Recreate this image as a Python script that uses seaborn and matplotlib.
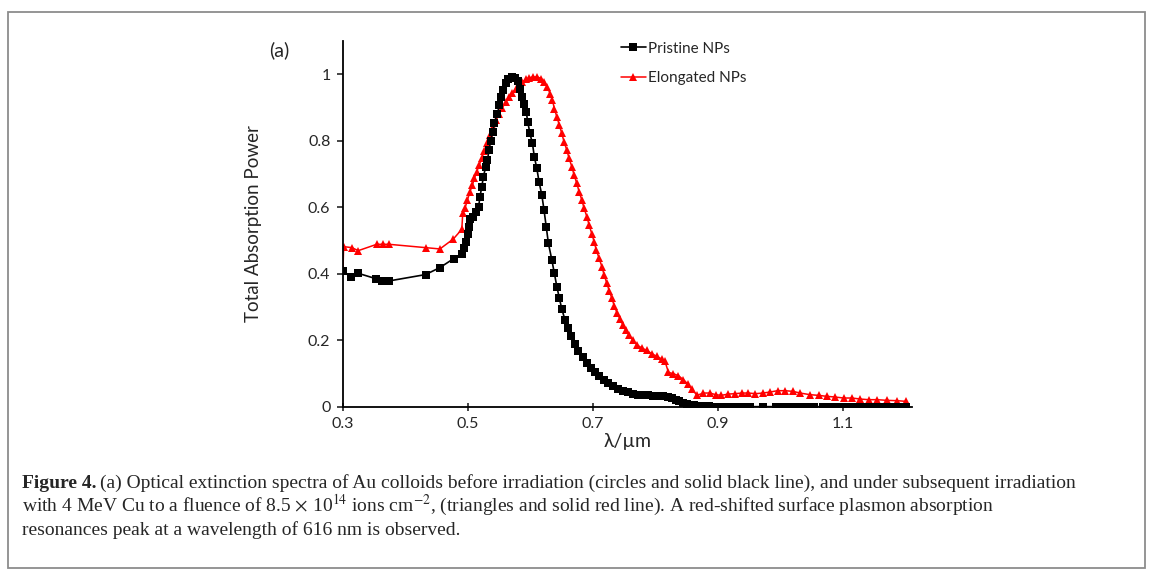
import numpy as np
import pandas as pd
import matplotlib
matplotlib.use("Agg")
import matplotlib.pyplot as plt
import seaborn as sns
from matplotlib.patches import Rectangle

sns.set_style("ticks")
plt.rcParams["font.family"] = ["Lato", "DejaVu Sans"]
plt.rcParams["mathtext.fontset"] = "stix"

# Pristine NPs (black squares)
pristine_x = [0.300, 0.312, 0.324, 0.352, 0.363, 0.374, 0.432, 0.455, 0.477, 0.490,
              0.494, 0.497, 0.4995, 0.502, 0.503, 0.508, 0.513, 0.517, 0.519, 0.522,
              0.5245, 0.528, 0.531, 0.5336, 0.536, 0.5395, 0.542, 0.547, 0.550, 0.553,
              0.5565, 0.560, 0.5645, 0.570, 0.575, 0.5805, 0.583, 0.587, 0.590, 0.593,
              0.5955, 0.599, 0.603, 0.606, 0.610, 0.6135, 0.618, 0.6215, 0.625, 0.6285,
              0.634, 0.638, 0.642, 0.646, 0.650, 0.655, 0.6605, 0.665, 0.671, 0.6765,
              0.6835, 0.690, 0.696, 0.703, 0.710, 0.717, 0.7245, 0.7325, 0.7405, 0.7485,
              0.7565, 0.7645, 0.7725, 0.780, 0.788, 0.796, 0.804, 0.812, 0.820, 0.826,
              0.832, 0.838, 0.844, 0.850, 0.856, 0.862, 0.868, 0.874, 0.880, 0.886,
              0.892, 0.898, 0.904, 0.910, 0.916, 0.922, 0.928, 0.934, 0.940, 0.946,
              0.951, 0.971, 0.992, 1.004, 1.017, 1.029, 1.042, 1.054, 1.067, 1.079,
              1.092, 1.104, 1.117, 1.129, 1.142, 1.154, 1.167, 1.179, 1.190, 1.200]
pristine_y = [0.410, 0.390, 0.402, 0.386, 0.380, 0.379, 0.398, 0.419, 0.446, 0.459,
              0.477, 0.497, 0.520, 0.542, 0.564, 0.570, 0.586, 0.602, 0.632, 0.662,
              0.692, 0.720, 0.742, 0.772, 0.800, 0.827, 0.854, 0.882, 0.907, 0.932,
              0.954, 0.974, 0.987, 0.992, 0.990, 0.980, 0.957, 0.932, 0.912, 0.887,
              0.857, 0.822, 0.792, 0.752, 0.717, 0.677, 0.637, 0.592, 0.542, 0.492,
              0.442, 0.402, 0.362, 0.327, 0.294, 0.262, 0.237, 0.212, 0.190, 0.169,
              0.150, 0.132, 0.117, 0.104, 0.092, 0.082, 0.072, 0.062, 0.055, 0.049,
              0.044, 0.040, 0.037, 0.036, 0.035, 0.034, 0.034, 0.033, 0.030, 0.026,
              0.021, 0.017, 0.013, 0.010, 0.007, 0.005, 0.004, 0.003, 0.002, 0.002,
              0.001, 0.001, 0.001, 0.001, 0.001, 0.001, 0.001, 0.001, 0.001, 0.001,
              0.001, 0.001, 0.001, 0.001, 0.001, 0.001, 0.001, 0.001, 0.001, 0.001,
              0.001, 0.001, 0.001, 0.001, 0.001, 0.001, 0.001, 0.001, 0.001, 0.001]

# Elongated NPs (red triangles)
elongated_x = [0.300, 0.301, 0.314, 0.3245, 0.354, 0.3635, 0.3735, 0.432, 0.455, 0.4765,
               0.490, 0.4915, 0.495, 0.499, 0.503, 0.507, 0.510, 0.514, 0.5176, 0.522,
               0.526, 0.530, 0.535, 0.5395, 0.545, 0.550, 0.555, 0.5605, 0.566, 0.571,
               0.5765, 0.5815, 0.587, 0.5925, 0.598, 0.6045, 0.611, 0.617, 0.622, 0.627,
               0.631, 0.635, 0.638, 0.642, 0.646, 0.650, 0.6535, 0.658, 0.6616, 0.666,
               0.6696, 0.674, 0.6776, 0.682, 0.6856, 0.690, 0.6936, 0.698, 0.7016, 0.705,
               0.7096, 0.714, 0.7176, 0.722, 0.7256, 0.730, 0.7336, 0.738, 0.743, 0.7475,
               0.752, 0.757, 0.763, 0.770, 0.778, 0.786, 0.794, 0.802, 0.810, 0.815,
               0.8205, 0.8285, 0.8365, 0.8445, 0.851, 0.858, 0.866, 0.8765, 0.887, 0.896,
               0.905, 0.9165, 0.927, 0.938, 0.9485, 0.9596, 0.9715, 0.983, 0.995, 1.007,
               1.0195, 1.031, 1.047, 1.0605, 1.074, 1.087, 1.1005, 1.114, 1.127, 1.1405,
               1.154, 1.170, 1.186, 1.200]
elongated_y = [0.412, 0.482, 0.479, 0.470, 0.489, 0.489, 0.489, 0.479, 0.475, 0.505,
               0.534, 0.582, 0.597, 0.622, 0.647, 0.667, 0.687, 0.707, 0.727, 0.747,
               0.770, 0.792, 0.817, 0.842, 0.862, 0.882, 0.900, 0.917, 0.932, 0.945,
               0.957, 0.967, 0.977, 0.985, 0.990, 0.992, 0.992, 0.987, 0.977, 0.962,
               0.942, 0.922, 0.897, 0.872, 0.847, 0.822, 0.797, 0.772, 0.747, 0.722,
               0.697, 0.672, 0.647, 0.622, 0.597, 0.572, 0.547, 0.520, 0.497, 0.472,
               0.447, 0.422, 0.397, 0.372, 0.350, 0.327, 0.305, 0.284, 0.264, 0.247,
               0.232, 0.217, 0.202, 0.187, 0.177, 0.170, 0.160, 0.152, 0.144, 0.137,
               0.104, 0.100, 0.094, 0.082, 0.070, 0.054, 0.035, 0.042, 0.042, 0.037,
               0.035, 0.039, 0.040, 0.042, 0.042, 0.040, 0.042, 0.045, 0.049, 0.049,
               0.047, 0.042, 0.037, 0.035, 0.032, 0.030, 0.027, 0.027, 0.024, 0.022,
               0.022, 0.020, 0.019, 0.017]

x_ticks = [0.3, 0.5, 0.7, 0.9, 1.1]
y_ticks = [0, 0.2, 0.4, 0.6, 0.8, 1]

W, H = 1153, 580
fig = plt.figure(figsize=(W / 100, H / 100), dpi=100)
ax = fig.add_axes([343 / W, 1 - 407 / H, (912 - 343) / W, (407 - 41) / H])

sns.lineplot(x=elongated_x, y=elongated_y, ax=ax, color="#ff0000", marker="^",
             markersize=6.3, markeredgewidth=0, linewidth=1.1, sort=False,
             estimator=None, label="Elongated NPs")
sns.lineplot(x=pristine_x, y=pristine_y, ax=ax, color="black", marker="s",
             markersize=5.3, markeredgewidth=0, linewidth=1.2, sort=False,
             estimator=None, label="Pristine NPs")

ax.set_xlim(0.3, 1.21)
ax.set_ylim(0, 1.1)
ax.set_xticks(x_ticks)
ax.set_xticklabels(["0.3", "0.5", "0.7", "0.9", "1.1"])
ax.set_yticks(y_ticks)
ax.set_yticklabels(["0", "0.2", "0.4", "0.6", "0.8", "1"])
ax.tick_params(axis="x", direction="inout", length=6, width=1.2, labelsize=11.5, pad=4)
ax.tick_params(axis="y", direction="out", length=4, width=1.2, labelsize=11.5, pad=5)
sns.despine(ax=ax)
for s in ["left", "bottom"]:
    ax.spines[s].set_linewidth(1.3)
    ax.spines[s].set_color("black")

ax.set_xlabel("λ/µm", fontsize=14, labelpad=2)
ax.set_ylabel("Total Absorption Power", fontsize=13.5, labelpad=33)

handles, labels = ax.get_legend_handles_labels()
ax.legend(handles[::-1], labels[::-1], loc="upper left", bbox_to_anchor=(0.478, 1.015),
          frameon=False, fontsize=11, handlelength=1.6, handletextpad=0.15,
          labelspacing=1.0, borderaxespad=0)

fig.text(279 / W, 1 - 50 / H, "(a)", fontsize=14, ha="center", va="center")

# caption
cap_font = ["Liberation Serif", "DejaVu Serif"]
cap_size = 14
baselines = [488, 511.5, 535]
lines = [
    "(a) Optical extinction spectra of Au colloids before irradiation (circles and solid black line), and under subsequent irradiation",
    r"with 4 MeV Cu to a fluence of 8.5 $\times$ 10$^{14}$ ions cm$^{-2}$, (triangles and solid red line). A red-shifted surface plasmon absorption",
    "resonances peak at a wavelength of 616 nm is observed.",
]
t1 = fig.text(22 / W, 1 - baselines[0] / H, "Figure 4.", fontsize=cap_size,
              fontweight="bold", family=cap_font, va="baseline")
fig.canvas.draw()
bb = t1.get_window_extent()
fig.text(bb.x1 / W + 3 / W, 1 - baselines[0] / H, lines[0], fontsize=cap_size,
         family=cap_font, va="baseline")
fig.text(22 / W, 1 - baselines[1] / H, lines[1], fontsize=cap_size, family=cap_font,
         va="baseline")
fig.text(22 / W, 1 - baselines[2] / H, lines[2], fontsize=cap_size, family=cap_font,
         va="baseline")

fig.patches.append(Rectangle((8 / W, 1 - 568 / H), (1145 - 8) / W, (568 - 12) / H,
                             transform=fig.transFigure, fill=False,
                             edgecolor="#8c8c8c", linewidth=1.3))

fig.savefig("out.png", dpi=100)
